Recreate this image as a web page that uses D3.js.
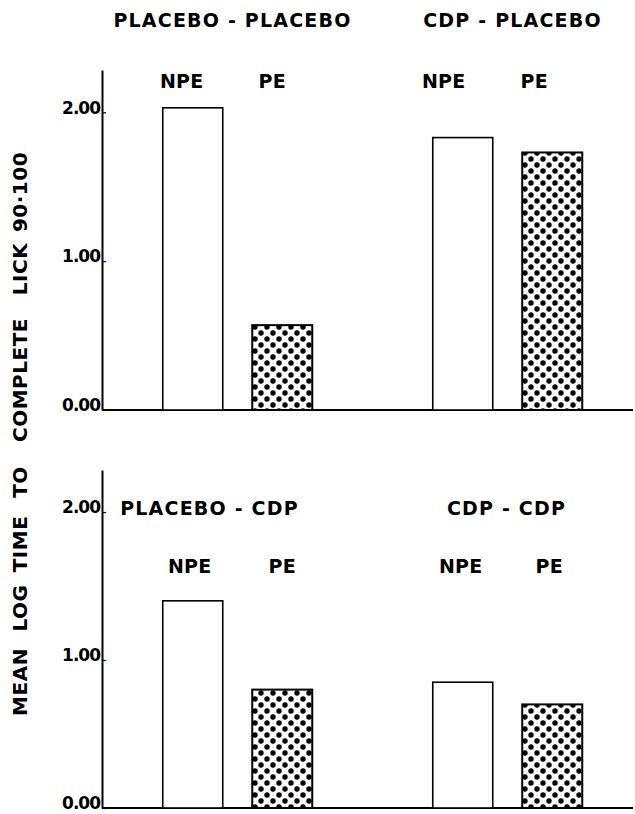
<!DOCTYPE html>
<html>
<head>
<meta charset="utf-8">
<script src="https://cdn.jsdelivr.net/npm/d3@7"></script>
<style>
  html, body { margin: 0; padding: 0; background: #fff; }
  svg { display: block; }
  text { font-family: "DejaVu Sans", sans-serif; font-weight: bold; fill: #000; }
</style>
</head>
<body>
<script>
// ---------- data ----------
const panels = ["PLACEBO - PLACEBO", "CDP - PLACEBO", "PLACEBO - CDP", "CDP - CDP"];
const conditions = ["NPE", "PE"];
const npeValues = [2.03, 1.83, 1.40, 0.85];
const peValues = [0.57, 1.73, 0.80, 0.70];
const tickValues = [0, 1, 2];
const tickLabels = ["0.00", "1.00", "2.00"];
const yAxisWords = ["MEAN", "LOG", "TIME", "TO", "COMPLETE", "LICK", "90·100"];

// ---------- layout ----------
const W = 635, H = 814;
const axisX = 102, rightEdge = 633;
const rows = [
  { range: [410, 70], titleY: 27, labelY: 88,
    titleDx: [-5, 5], labelDx: [[-11, -10], [-19, -18]] },
  { range: [808, 470], titleY: 515, labelY: 573,
    titleDx: [-28, -1], labelDx: [[-3, 0], [-2, -3]] }
];
const yMax = 2.284;
const barW = 60;

const svg = d3.select("body").append("svg").attr("width", W).attr("height", H);

// dot pattern
const defs = svg.append("defs");
const pat = defs.append("pattern").attr("id", "dots")
  .attr("patternUnits", "userSpaceOnUse").attr("width", 12).attr("height", 12);
pat.append("rect").attr("width", 12).attr("height", 12).attr("fill", "#fff");
pat.append("circle").attr("cx", 3).attr("cy", 3).attr("r", 2.7).attr("fill", "#000");
pat.append("circle").attr("cx", 9).attr("cy", 9).attr("r", 2.7).attr("fill", "#000");

const groupX = d3.scalePoint().domain([0, 1]).range([237.5, 507.5]);
const condX = d3.scalePoint().domain(conditions).range([-44.75, 44.75]);

rows.forEach((row, r) => {
  const y = d3.scaleLinear().domain([0, yMax]).range(row.range);
  const g = svg.append("g");

  // y axis
  const axis = d3.axisLeft(y).tickValues(tickValues)
    .tickFormat((d, i) => tickLabels[i]).tickSizeInner(-4).tickSizeOuter(0).tickPadding(2);
  const ag = g.append("g").attr("transform", `translate(${axisX},0)`).call(axis);
  ag.select(".domain").attr("stroke", "#000").attr("stroke-width", 2);
  ag.selectAll(".tick line").attr("stroke", "#000").attr("stroke-width", 1.2);
  ag.selectAll(".tick text").style("font-family", "DejaVu Sans").style("font-weight", "bold")
    .style("font-size", "17px").attr("letter-spacing", "-1").attr("dy", "0.05em");

  // baseline
  g.append("line").attr("x1", axisX).attr("x2", rightEdge)
    .attr("y1", y(0)).attr("y2", y(0)).attr("stroke", "#000").attr("stroke-width", 2);

  [0, 1].forEach(c => {
    const p = r * 2 + c;
    const vals = [npeValues[p], peValues[p]];
    // title
    g.append("text").attr("x", groupX(c) + row.titleDx[c]).attr("y", row.titleY)
      .attr("text-anchor", "middle").attr("font-size", 19).attr("letter-spacing", 1.2)
      .text(panels[p]);
    conditions.forEach((cond, k) => {
      const cx = groupX(c) + condX(cond);
      g.append("text").attr("x", cx + row.labelDx[c][k]).attr("y", row.labelY)
        .attr("text-anchor", "middle").attr("font-size", 19).attr("letter-spacing", 0.3)
        .text(cond);
      g.append("rect")
        .attr("x", cx - barW / 2).attr("width", barW)
        .attr("y", y(vals[k])).attr("height", y(0) - y(vals[k]))
        .attr("fill", cond === "PE" ? "url(#dots)" : "#fff")
        .attr("stroke", "#000").attr("stroke-width", cond === "PE" ? 2 : 1.6);
    });
  });
});

// y axis title, word by word
const wordPos = { "MEAN": 682, "LOG": 608, "TIME": 544, "TO": 482, "COMPLETE": 380, "LICK": 269, "90·100": 192 };
yAxisWords.forEach(w => {
  svg.append("text")
    .attr("transform", `translate(27,${wordPos[w]}) rotate(-90)`)
    .attr("text-anchor", "middle").attr("font-size", 20).attr("letter-spacing", 0.5)
    .text(w);
});
</script>
</body>
</html>
